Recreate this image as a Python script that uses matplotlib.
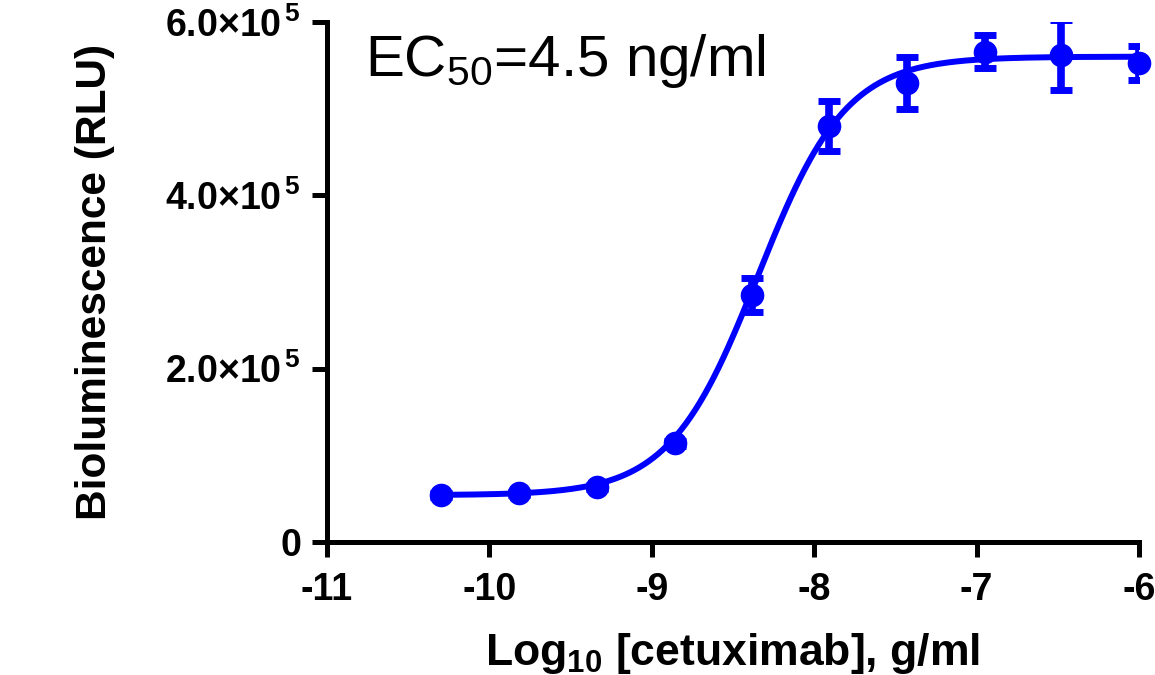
import numpy as np
import matplotlib
matplotlib.use("Agg")
import matplotlib.pyplot as plt

plt.rcParams['font.family'] = ['Liberation Sans', 'DejaVu Sans']
plt.rcParams['mathtext.fontset'] = 'custom'
plt.rcParams['mathtext.rm'] = 'Liberation Sans'
plt.rcParams['mathtext.it'] = 'Liberation Sans:italic'
plt.rcParams['mathtext.bf'] = 'Liberation Sans:bold'

# data (3-fold dilutions, top = 1 ug/ml)
log_conc = [-10.30, -9.82, -9.34, -8.86, -8.38, -7.91, -7.43, -6.95, -6.48, -6.00]
rlu = [54200, 56200, 63800, 113900, 285000, 480000, 529600, 565700, 561900, 553000]
rlu_sd = [2000, 2000, 2500, 3000, 20000, 29000, 30000, 19000, 40000, 19500]

# 4PL fit parameters
fit_bottom = 54000
fit_top = 560000
fit_log_ec50 = np.log10(4.5e-9)
fit_hill = 1.6

yticks = [0, 2e5, 4e5, 6e5]
ytick_labels = ['0', r'$\mathbf{2.0{\times}10^{\,5}}$', r'$\mathbf{4.0{\times}10^{\,5}}$',
                r'$\mathbf{6.0{\times}10^{\,5}}$']
xticks = [-11, -10, -9, -8, -7, -6]

blue = '#0000ff'

fig = plt.figure(figsize=(11.55, 6.75), dpi=100)
ax = fig.add_axes([327 / 1155, 133 / 675, 812 / 1155, 520 / 675])

xs = np.linspace(log_conc[0], log_conc[-1], 300)
ys = fit_bottom + (fit_top - fit_bottom) / (1 + 10 ** ((fit_log_ec50 - xs) * fit_hill))
ax.plot(xs, ys, color=blue, lw=4.3, zorder=2)

ax.errorbar(log_conc, rlu, yerr=rlu_sd, fmt='none', ecolor=blue,
            elinewidth=5.5, capsize=8, capthick=5, zorder=3)
ax.plot(log_conc, rlu, 'o', color=blue, ms=16, zorder=4, clip_on=False)

ax.set_xlim(-11, -6)
ax.set_ylim(0, 6e5)
ax.set_xticks(xticks)
ax.set_xticklabels([str(t) for t in xticks])
ax.set_yticks(yticks)
ax.set_yticklabels(ytick_labels)

for s in ['top', 'right']:
    ax.spines[s].set_visible(False)
for s in ['left', 'bottom']:
    ax.spines[s].set_linewidth(3.6)
ax.tick_params(direction='out', length=10.8, width=3.6, labelsize=27)
ax.tick_params(axis='x', pad=11)
ax.tick_params(axis='y', pad=8, labelsize=27)
for lab in ax.get_xticklabels() + ax.get_yticklabels():
    lab.set_fontweight('bold')

ax.set_ylabel('Bioluminescence (RLU)', fontsize=30.5, fontweight='bold', labelpad=36)
ax.set_xlabel(r'$\mathbf{Log_{10}}$' + ' [cetuximab], g/ml', fontsize=32,
              fontweight='bold', labelpad=16)

ax.text(0.047, 0.925, r'EC$_{50}$=4.5 ng/ml', transform=ax.transAxes,
        fontsize=42, ha='left', va='center')

fig.savefig('out.png', dpi=100)
